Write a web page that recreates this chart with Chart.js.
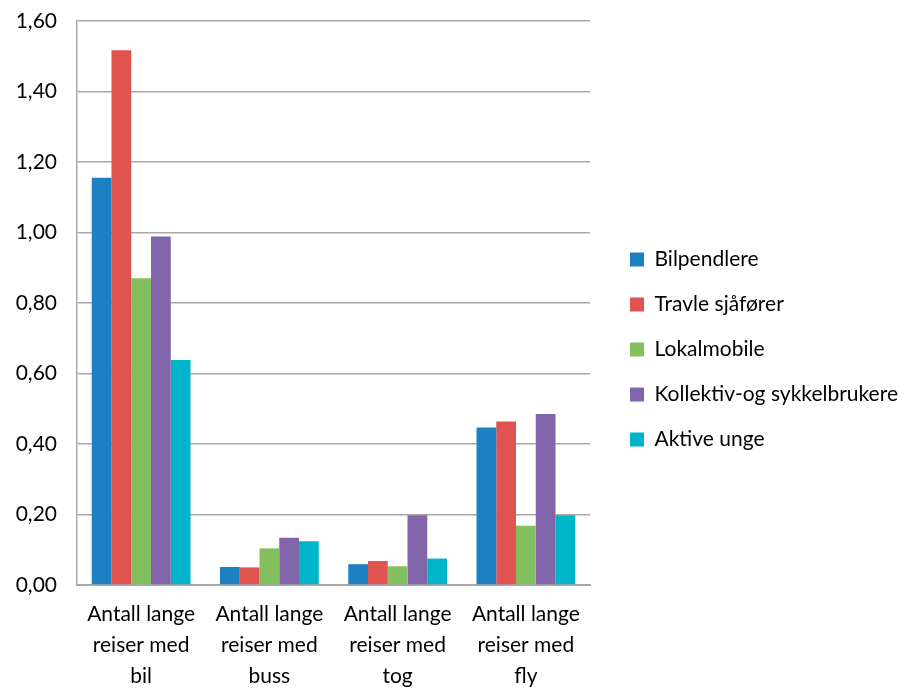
<!DOCTYPE html>
<html>
<head>
<meta charset="utf-8">
<script src="https://cdn.jsdelivr.net/npm/chart.js@4"></script>
<style>
  html, body { margin: 0; padding: 0; background: #fff; }
  #wrap { width: 910px; height: 688px; }
</style>
</head>
<body>
<div id="wrap"><canvas id="reiseChart" width="910" height="688"></canvas></div>
<script>
const categories = [
    ['Antall lange', 'reiser med', 'bil'],
    ['Antall lange', 'reiser med', 'buss'],
    ['Antall lange', 'reiser med', 'tog'],
    ['Antall lange', 'reiser med', 'fly']
];
const seriesNames = ['Bilpendlere', 'Travle sjåfører', 'Lokalmobile', 'Kollektiv-og sykkelbrukere', 'Aktive unge'];
const bilpendlere = [1.155, 0.051, 0.059, 0.447];
const travleSjaforer = [1.517, 0.050, 0.068, 0.464];
const lokalmobile = [0.870, 0.104, 0.053, 0.168];
const kollektivSykkel = [0.989, 0.134, 0.198, 0.485];
const aktiveUnge = [0.638, 0.124, 0.075, 0.198];
const yTicks = [0, 0.2, 0.4, 0.6, 0.8, 1.0, 1.2, 1.4, 1.6];

const colors = ['#1c80c2', '#e0534f', '#84bf5d', '#8164a9', '#00b4c9'];
const values = [bilpendlere, travleSjaforer, lokalmobile, kollektivSykkel, aktiveUnge];
const fontFamily = 'Lato, "Open Sans", sans-serif';
const gridColor = '#a8a8a8';

// fixed-width legend column, items pushed a bit right of the plot edge
const legendLayout = {
    id: 'legendLayout',
    beforeLayout(chart) {
        const legend = chart.legend;
        if (!legend || legend._patched) return;
        legend._patched = true;
        const fit = legend.fit;
        legend.fit = function () {
            fit.call(this);
            this.width = 320;
        };
        const draw = legend.draw;
        legend.draw = function () {
            const c = this.ctx;
            c.save();
            c.translate(16, -5);
            draw.call(this);
            c.restore();
        };
    }
};

const ctx = document.getElementById('reiseChart').getContext('2d');
const chart = new Chart(ctx, {
    type: 'bar',
    data: {
        labels: categories,
        datasets: seriesNames.map((name, i) => ({
            label: name,
            data: values[i],
            backgroundColor: colors[i],
            borderWidth: 0,
            categoryPercentage: 0.77,
            barPercentage: 1.0
        }))
    },
    plugins: [legendLayout],
    options: {
        responsive: false,
        animation: false,
        layout: { padding: { top: 21, right: 0, left: 0, bottom: 0 } },
        plugins: {
            tooltip: { enabled: false },
            legend: {
                position: 'right',
                align: 'center',
                labels: {
                    color: '#000',
                    font: { family: fontFamily, size: 21 },
                    boxWidth: 14,
                    boxHeight: 14,
                    padding: 24
                }
            }
        },
        scales: {
            x: {
                afterFit: scale => { scale.height = 103; },
                grid: { display: false, drawTicks: false },
                border: { color: gridColor, width: 2 },
                ticks: {
                    color: '#000',
                    padding: 14,
                    maxRotation: 0,
                    font: { family: fontFamily, size: 21, lineHeight: 1.48 }
                }
            },
            y: {
                min: 0,
                max: 1.6,
                afterFit: scale => { scale.width = 77; },
                afterBuildTicks: scale => {
                    scale.ticks = yTicks.map(v => ({ value: v }));
                },
                // invisible tick marks keep the labels clear of the axis
                grid: { color: gridColor, lineWidth: 1.5, drawTicks: true, tickLength: 20, tickColor: 'rgba(0,0,0,0)' },
                border: { color: gridColor, width: 1.5 },
                ticks: {
                    color: '#000',
                    padding: 0,
                    font: { family: fontFamily, size: 21 },
                    callback: v => v.toFixed(2).replace('.', ',')
                }
            }
        }
    }
});
</script>
</body>
</html>
